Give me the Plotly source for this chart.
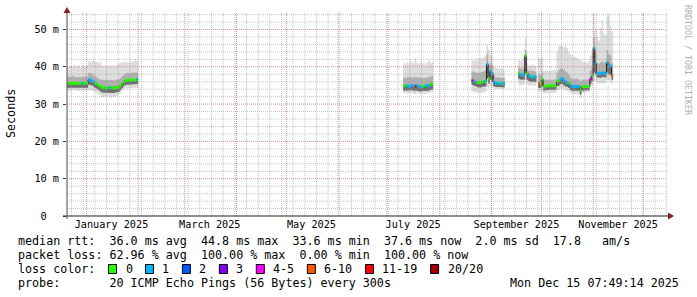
import plotly.graph_objects as go
import pandas as pd

# ------------------------------------------------------------------ data
range_start = "2024-12-20 07:49:14"
range_end = "2025-12-15 07:49:14"

# each data segment: first day, then one value per day
segment_start = ["2024-12-20", "2025-07-10", "2025-08-20", "2025-09-17", "2025-09-29"]

median_ms = [
    [35.6, 35.6, 35.5, 35.6, 35.6, 35.6, 35.6, 35.5, 35.6, 35.6, 35.6, 35.6, 35.6,
     36.5, 36.5, 36.2, 35.9, 35.6, 35.3, 35.0, 34.7, 34.5, 34.4, 34.3, 34.4, 34.4,
     34.5, 34.4, 34.3, 34.4, 34.5, 34.6, 35.0, 35.5, 36.0, 36.4, 36.4, 36.5, 36.4,
     36.5, 36.5, 36.5, 36.6],
    [34.9, 35.0, 34.9, 34.8, 34.9, 35.0, 34.9, 34.8, 34.9, 34.8, 34.6, 34.8, 34.9,
     34.9, 35.0, 34.9, 35.2, 35.5],
    [36.3, 36.2, 36.0, 35.8, 35.8, 35.8, 36.0, 36.0, 36.1, 40.7, 36.9, 38.8, 38.2,
     36.0, 35.6, 35.6, 35.6, 35.6, 35.5, 35.5],
    [38.3, 37.9, 37.8, 37.8, 43.0, 38.3, 37.5, 37.4, 37.4, 37.3, 37.3],
    [35.6, 35.6, 36.7, 34.6, 34.8, 34.9, 34.9, 34.9, 34.9, 34.9, 34.9, 36.0, 36.3,
     36.7, 36.9, 36.3, 36.0, 35.8, 35.6, 35.0, 34.7, 34.7, 34.7, 34.7, 34.7, 33.8,
     34.7, 34.7, 34.7, 34.7, 34.7, 36.7, 37.5, 45.0, 41.0, 38.3, 38.3, 38.2, 38.4,
     38.3, 38.3, 41.2, 40.3, 40.2, 37.6],
]

lost_pings = [
    [0, 0, 0, 0, 0, 0, 0, 0, 0, 1, 0, 0, 0,
     1, 1, 1, 1, 0, 0, 0, 0, 0, 0, 0, 0, 1,
     0, 0, 0, 0, 0, 0, 0, 0, 0, 0, 0, 0, 0,
     0, 0, 0, 1],
    [0, 0, 1, 1, 1, 1, 1, 12, 1, 1, 1, 0, 0, 1, 1, 1, 0, 0],
    [12, 1, 1, 0, 0, 0, 0, 1, 0, 1, 0, 1, 1, 1, 1, 1, 1, 0, 1, 1],
    [0, 1, 1, 1, 0, 0, 1, 1, 0, 1, 1],
    [7, 0, 0, 0, 0, 0, 0, 0, 0, 0, 0, 0, 0,
     1, 1, 1, 1, 1, 0, 1, 1, 1, 1, 1, 1, 0,
     0, 0, 0, 0, 0, 4, 0, 1, 1, 1, 1, 1, 1,
     1, 1, 1, 1, 1, 7],
]

smoke_max_ms = [
    [40.2, 39.8, 40.3, 40.0, 40.5, 39.9, 40.2, 40.4, 39.8, 40.1, 40.3, 40.0, 40.4,
     41.6, 41.2, 41.5, 41.8, 41.3, 41.5, 41.0, 41.4, 40.2, 40.0, 40.4, 39.9, 40.3,
     40.1, 40.5, 40.0, 40.2, 40.6, 40.9, 41.2, 41.0, 41.4, 41.1, 41.3, 41.0, 41.5,
     41.2, 41.4, 42.0, 41.6],
    [41.0, 40.6, 41.3, 40.8, 41.6, 40.9, 41.2, 42.2, 41.0, 40.7, 41.5, 40.8, 41.1,
     40.6, 41.3, 41.8, 40.9, 41.2],
    [41.8, 41.5, 42.0, 41.6, 42.3, 42.5, 42.0, 42.6, 43.0, 45.8, 44.5, 43.2, 42.8,
     40.0, 39.6, 39.8, 39.4, 39.7, 39.5, 39.3],
    [41.8, 41.5, 41.9, 42.5, 47.6, 41.0, 40.5, 40.3, 40.6, 40.4, 40.2],
    [42.3, 42.0, 42.5, 39.0, 38.8, 39.2, 38.7, 39.0, 38.9, 39.1, 39.3, 44.0, 45.5,
     45.8, 45.6, 45.3, 45.8, 45.0, 44.0, 43.2, 43.0, 42.6, 42.8, 42.3, 42.0, 41.8,
     41.3, 41.5, 41.0, 41.2, 41.6, 43.0, 44.0, 54.0, 50.0, 48.0, 47.0, 50.5, 52.5,
     49.0, 48.5, 53.5, 53.9, 51.0, 49.5],
]

smoke_hi_ms = [
    [37.4, 37.2, 37.3, 37.5, 37.3, 37.2, 37.4, 37.3, 37.2, 37.4, 37.3, 37.5, 37.3,
     38.4, 38.3, 38.0, 37.7, 37.4, 37.1, 36.8, 36.6, 36.5, 36.4, 36.3, 36.5, 36.4,
     36.6, 36.4, 36.3, 36.5, 36.6, 36.7, 37.0, 37.5, 37.9, 38.3, 38.2, 38.4, 38.3,
     38.4, 38.5, 38.6, 38.5],
    [37.2, 37.0, 37.3, 37.1, 37.4, 37.0, 37.2, 37.3, 37.1, 37.0, 37.2, 36.9, 37.1,
     37.0, 37.2, 37.3, 37.4, 37.6],
    [38.8, 38.6, 38.4, 38.3, 38.4, 38.5, 38.6, 38.8, 39.2, 43.5, 40.5, 41.0, 40.5,
     37.8, 37.2, 37.1, 37.0, 37.1, 37.0, 36.9],
    [39.8, 39.5, 39.4, 39.6, 44.5, 39.5, 39.0, 38.9, 38.8, 38.8, 38.7],
    [38.0, 37.8, 38.5, 36.5, 36.4, 36.6, 36.5, 36.4, 36.6, 36.5, 36.7, 38.5, 39.0,
     39.5, 39.6, 39.2, 38.8, 38.5, 38.0, 37.2, 36.8, 36.9, 36.7, 36.8, 36.6, 36.2,
     36.5, 36.6, 36.4, 36.5, 36.8, 39.0, 40.0, 48.0, 44.0, 41.0, 40.8, 41.2, 41.5,
     41.0, 41.2, 44.5, 43.5, 43.0, 41.0],
]

smoke_lo_ms = [
    [34.4, 34.5, 34.3, 34.4, 34.5, 34.3, 34.4, 34.5, 34.4, 34.3, 34.4, 34.5, 34.4,
     35.2, 35.1, 34.9, 34.6, 34.3, 34.0, 33.7, 33.4, 33.1, 33.0, 32.9, 33.0, 33.1,
     33.0, 32.9, 33.0, 33.1, 33.2, 33.3, 33.8, 34.3, 34.8, 35.1, 35.2, 35.2, 35.3,
     35.2, 35.3, 35.3, 35.4],
    [33.6, 33.7, 33.5, 33.6, 33.5, 33.7, 33.6, 33.4, 33.6, 33.5, 33.3, 33.5, 33.6,
     33.5, 33.7, 33.6, 33.8, 34.0],
    [35.2, 35.0, 34.8, 34.6, 34.5, 34.4, 34.6, 34.7, 34.8, 37.0, 35.5, 36.5, 36.0,
     34.8, 34.6, 34.6, 34.5, 34.6, 34.5, 34.5],
    [36.8, 36.6, 36.5, 36.5, 38.5, 36.5, 36.2, 36.0, 36.0, 35.9, 35.9],
    [34.3, 34.4, 35.0, 33.6, 33.7, 33.8, 33.7, 33.8, 33.7, 33.8, 33.9, 34.8, 35.0,
     35.3, 35.4, 35.0, 34.8, 34.6, 34.3, 33.8, 33.6, 33.5, 33.6, 33.5, 33.6, 32.6,
     33.6, 33.7, 33.6, 33.7, 33.8, 35.5, 36.2, 38.5, 38.0, 37.2, 37.2, 37.0, 37.3,
     37.2, 37.1, 38.5, 38.0, 37.8, 36.5],
]

smoke_min_ms = [
    [33.6, 33.8, 33.5, 33.7, 33.6, 33.8, 33.5, 33.7, 33.6, 33.5, 33.7, 33.6, 33.8,
     34.0, 33.8, 33.6, 33.4, 33.0, 32.8, 32.5, 32.3, 32.0, 31.8, 32.1, 31.9, 32.0,
     31.7, 32.0, 31.9, 32.1, 32.3, 32.6, 33.0, 33.5, 34.0, 34.2, 34.3, 34.2, 34.4,
     34.3, 34.2, 34.4, 34.3],
    [32.8, 33.0, 32.7, 32.9, 32.8, 33.0, 32.7, 32.6, 32.9, 32.8, 32.6, 32.8, 32.9,
     32.7, 33.0, 32.9, 33.1, 33.3],
    [33.5, 33.3, 33.2, 33.0, 32.9, 32.9, 33.0, 33.2, 33.4, 34.5, 34.2, 34.8, 34.5,
     34.2, 34.0, 34.1, 34.0, 34.1, 34.0, 34.0],
    [35.2, 35.0, 35.0, 35.1, 36.5, 35.2, 35.0, 35.0, 34.9, 34.9, 35.0],
    [33.3, 33.4, 33.5, 32.9, 33.0, 32.9, 33.0, 32.9, 33.0, 33.1, 33.0, 33.6, 33.8,
     34.0, 34.1, 33.9, 33.7, 33.5, 33.3, 33.0, 32.8, 32.7, 32.8, 32.7, 32.6, 31.6,
     33.0, 33.1, 33.0, 33.2, 33.3, 34.5, 35.0, 36.0, 36.2, 35.8, 35.6, 35.5, 35.7,
     35.6, 35.5, 36.5, 36.3, 36.0, 35.3],
]

loss_labels = ["0", "1", "2", "3", "4-5", "6-10", "11-19", "20/20"]
loss_upper = [0, 1, 2, 3, 5, 10, 19, 20]
loss_colors = ["#26ff00", "#00b8ff", "#0059ff", "#7e00ff", "#ff00ff", "#ff5500",
               "#ff0000", "#a10000"]

y_tick_ms = [0, 10, 20, 30, 40, 50]
y_tick_text = ["0\u00a0\u00a0", "10 m", "20 m", "30 m", "40 m", "50 m"]
y_top_ms = 54.69

x_label_dates = ["2025-01-16", "2025-03-16", "2025-05-16", "2025-07-16", "2025-09-16",
                 "2025-11-16"]
x_label_text = ["January 2025", "March 2025", "May 2025", "July 2025",
                "September 2025", "November 2025"]

legend_rows = [
    "median rtt:  36.0 ms avg  44.8 ms max  33.6 ms min  37.6 ms now  2.0 ms sd  17.8   am/s",
    "packet loss: 62.96 % avg  100.00 % max  0.00 % min  100.00 % now",
    "loss color:",
    "probe:       20 ICMP Echo Pings (56 Bytes) every 300s",
]
timestamp_text = "Mon Dec 15 07:49:14 2025"
y_title = "Seconds"
watermark = "RRDTOOL / TOBI OETIKER"

# ------------------------------------------------------------------ layout constants
W, H = 697, 297
PL, PR, PT, PB = 67, 667, 12, 216
MONO = "DejaVu Sans Mono"
F_LEG = 11.7
F_AX = 10.2
CH = 7.05  # legend char advance


def px(x):
    return (x - PL) / (PR - PL)


def py(y):
    return (PB - y) / (PB - PT)


def steps(start, vals):
    t0 = pd.Timestamp(start)
    xs, ys = [], []
    for i, v in enumerate(vals):
        a = t0 + pd.Timedelta(days=i)
        b = a + pd.Timedelta(days=1)
        xs += [a, b]
        ys += [v / 1000.0, v / 1000.0]
    return xs, ys


def loss_class(n):
    for k, u in enumerate(loss_upper):
        if n <= u:
            return k
    return len(loss_upper) - 1


fig = go.Figure()

# smoke: outer light band, upper half of core (median..hi), lower half (lo..median)
for band_hi, band_lo, col in [(smoke_max_ms, smoke_min_ms, "#dddddd"),
                              (smoke_hi_ms, median_ms, "#b0b0b0"),
                              (median_ms, smoke_lo_ms, "#6e6e6e")]:
    for s, hi, lo in zip(segment_start, band_hi, band_lo):
        xu, yu = steps(s, hi)
        xl, yl = steps(s, lo)
        fig.add_trace(go.Scatter(x=xu + xl[::-1], y=yu + yl[::-1], fill="toself",
                                 fillcolor=col, line=dict(width=0), mode="lines",
                                 hoverinfo="skip", showlegend=False))

# thin dark median connector
for s, med in zip(segment_start, median_ms):
    xm, ym = steps(s, med)
    fig.add_trace(go.Scatter(x=xm, y=ym, mode="lines",
                             line=dict(color="#202020", width=1),
                             hoverinfo="skip", showlegend=False))

# loss-coloured median
seg_x = {k: [] for k in range(len(loss_colors))}
seg_y = {k: [] for k in range(len(loss_colors))}
for s, med, loss in zip(segment_start, median_ms, lost_pings):
    t0 = pd.Timestamp(s)
    for i, (v, n) in enumerate(zip(med, loss)):
        k = loss_class(n)
        a = t0 + pd.Timedelta(days=i)
        seg_x[k] += [a, a + pd.Timedelta(days=1), None]
        seg_y[k] += [v / 1000.0, v / 1000.0, None]
for k, col in enumerate(loss_colors):
    if seg_x[k]:
        fig.add_trace(go.Scatter(x=seg_x[k], y=seg_y[k], mode="lines",
                                 line=dict(color=col, width=3),
                                 hoverinfo="skip", showlegend=False))

shapes = []
MINOR = "rgba(150,150,150,0.55)"
MAJOR = "rgba(200,110,110,0.75)"
DASH = "1px,1px"
for d in pd.date_range("2024-12-23", "2025-12-15", freq="7D"):
    shapes.append(dict(type="line", xref="x", yref="paper", x0=d, x1=d, y0=0, y1=1,
                       line=dict(color=MINOR, width=1, dash=DASH), layer="above"))
for v in range(2, 55, 2):
    if v % 10:
        shapes.append(dict(type="line", xref="paper", yref="y", x0=0, x1=1,
                           y0=v / 1000, y1=v / 1000,
                           line=dict(color=MINOR, width=1, dash=DASH), layer="above"))
for d in pd.date_range("2025-01-01", "2025-12-01", freq="MS"):
    shapes.append(dict(type="line", xref="x", yref="paper", x0=d, x1=d, y0=0, y1=1,
                       line=dict(color=MAJOR, width=1, dash=DASH), layer="above"))
for v in y_tick_ms[1:]:
    shapes.append(dict(type="line", xref="paper", yref="y", x0=0, x1=1,
                       y0=v / 1000, y1=v / 1000,
                       line=dict(color=MAJOR, width=1, dash=DASH), layer="above"))

# axes with arrows
AX = "#202020"
ARROW = "#7f1f1f"
shapes.append(dict(type="line", xref="paper", yref="paper", x0=px(63), x1=px(669),
                   y0=py(216), y1=py(216), line=dict(color=AX, width=1), layer="above"))
shapes.append(dict(type="line", xref="paper", yref="paper", x0=px(67), x1=px(67),
                   y0=py(219), y1=py(11), line=dict(color="#505050", width=1), layer="above"))
shapes.append(dict(type="path", xref="paper", yref="paper",
                   path=f"M {px(668)} {py(212.5)} L {px(674)} {py(216)} L {px(668)} {py(219.5)} Z",
                   fillcolor=ARROW, line=dict(width=0), layer="above"))
shapes.append(dict(type="path", xref="paper", yref="paper",
                   path=f"M {px(63.5)} {py(13)} L {px(67)} {py(7)} L {px(70.5)} {py(13)} Z",
                   fillcolor=ARROW, line=dict(width=0), layer="above"))

annotations = []
row_y = [241, 255, 269, 283]
for txt, yy in zip(legend_rows, row_y):
    annotations.append(dict(x=px(16), y=py(yy), xref="paper", yref="paper",
                            text=txt.replace(" ", "\u00a0"), showarrow=False,
                            xanchor="left", yanchor="middle",
                            font=dict(family=MONO, size=F_LEG, color="black")))
annotations.append(dict(x=px(681), y=py(283), xref="paper", yref="paper",
                        text=timestamp_text.replace(" ", "\u00a0"), showarrow=False,
                        xanchor="right", yanchor="middle",
                        font=dict(family=MONO, size=F_LEG, color="black")))

# loss colour boxes
bx = 108.0
for lab, col in zip(loss_labels, loss_colors):
    shapes.append(dict(type="rect", xref="paper", yref="paper",
                       x0=px(bx + 0.5), x1=px(bx + 8.5), y0=py(273.5), y1=py(264.5),
                       fillcolor=col, line=dict(color="black", width=1), layer="above"))
    lx = bx + 15.5
    annotations.append(dict(x=px(lx), y=py(269), xref="paper", yref="paper",
                            text=lab, showarrow=False, xanchor="left", yanchor="middle",
                            font=dict(family=MONO, size=F_LEG, color="black")))
    bx = lx + len(lab) * CH + 14.4

annotations.append(dict(x=px(11), y=py(114), xref="paper", yref="paper", text=y_title,
                        showarrow=False, textangle=-90, xanchor="center", yanchor="middle",
                        font=dict(family=MONO, size=F_LEG, color="black")))
annotations.append(dict(x=px(688), y=py(60), xref="paper", yref="paper", text=watermark,
                        showarrow=False, textangle=90, xanchor="center", yanchor="middle",
                        font=dict(family=MONO, size=8.3, color="#b0b0b0")))

fig.update_layout(
    width=W, height=H,
    margin=dict(l=PL, r=W - PR, t=PT, b=H - PB, pad=0),
    paper_bgcolor="white", plot_bgcolor="white",
    showlegend=False,
    shapes=shapes, annotations=annotations,
    xaxis=dict(type="date", range=[range_start, range_end], showgrid=False,
               zeroline=False, showline=False, ticks="",
               tickmode="array", tickvals=x_label_dates, ticktext=x_label_text,
               tickfont=dict(family=MONO, size=F_AX, color="black"),
               ticklabelstandoff=1, fixedrange=True),
    yaxis=dict(range=[0, y_top_ms / 1000], showgrid=False, zeroline=False,
               showline=False, ticks="outside", ticklen=3, tickcolor="#404040",
               tickmode="array", tickvals=[v / 1000 for v in y_tick_ms],
               ticktext=y_tick_text,
               tickfont=dict(family=MONO, size=F_AX, color="black"),
               ticklabelstandoff=2, fixedrange=True),
)

fig.write_html("out.html")
